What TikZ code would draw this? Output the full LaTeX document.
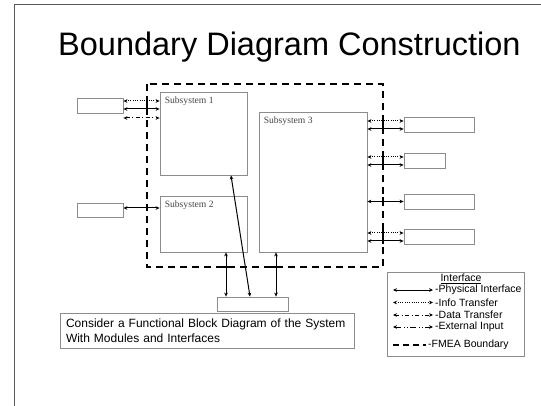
\documentclass[tikz,border=0pt]{standalone}
\usepackage{fontspec}
\setmainfont{Liberation Serif}
\newfontfamily\arialfont{Liberation Sans}
\usetikzlibrary{arrows.meta}
\definecolor{boxgray}{RGB}{140,140,140}
\definecolor{labgray}{RGB}{70,70,70}
\definecolor{framegray}{RGB}{90,90,90}
\tikzset{
  sysbox/.style={draw=boxgray, line width=0.8pt, inner sep=0pt, rectangle},
  sublabel/.style={anchor=base west, inner sep=0pt, font=\fontsize{9.6}{11}\selectfont, text=labgray},
  conn/.style={line width=1pt, >={Stealth[length=4pt,width=3.6pt]}, <->},
  phys/.style={conn},
  info/.style={conn, dash pattern=on 1pt off 1.3pt},
  data/.style={conn, dash pattern=on 4pt off 2.5pt on 1pt off 2.5pt},
  ext/.style={conn, dash pattern=on 6pt off 2.5pt on 1pt off 2pt on 1pt off 2.5pt},
  fmea/.style={line width=2pt, dash pattern=on 7pt off 5pt},
  fmeatick/.style={line width=2pt},
  legtext/.style={anchor=west, inner sep=0pt, font=\arialfont\fontsize{10.5}{12}\selectfont},
}
\begin{document}
\begin{tikzpicture}[x=1pt,y=-1pt]
\useasboundingbox (0,0) rectangle (541,406);
\fill[white] (0,0) rectangle (541,406);
\draw[framegray, line width=0.8pt] (14,406) -- (14,4) -- (541,4);

\node[anchor=base west, inner sep=0pt, font=\arialfont\fontsize{32.5}{38}\selectfont] (title) at (58,56) {Boundary Diagram Construction};

% FMEA boundary
\draw[fmea] (147,84) rectangle (383,267);

% boxes
\node[sysbox, minimum width=46pt, minimum height=15pt] (A) at (100,105.5) {};
\node[sysbox, minimum width=46pt, minimum height=14pt] (B) at (100,210) {};
\node[sysbox, minimum width=87pt, minimum height=83pt] (s1) at (203.5,133.5) {};
\node[sysbox, minimum width=87pt, minimum height=56pt] (s2) at (203.5,224) {};
\node[sysbox, minimum width=108pt, minimum height=140pt] (s3) at (313,182) {};
\node[sysbox, minimum width=70pt, minimum height=15pt] (R1) at (439,124.5) {};
\node[sysbox, minimum width=41pt, minimum height=15pt] (R2) at (424.5,160.5) {};
\node[sysbox, minimum width=70pt, minimum height=15pt] (R3) at (439,201.5) {};
\node[sysbox, minimum width=70pt, minimum height=15pt] (R4) at (439,236.5) {};
\node[sysbox, minimum width=71pt, minimum height=14pt] (bot) at (252.5,304) {};

\node[sublabel] (s1lab) at ([shift={(5,12)}]s1.north west) {Subsystem 1};
\node[sublabel] (s2lab) at ([shift={(5,12)}]s2.north west) {Subsystem 2};
\node[sublabel] (s3lab) at ([shift={(5,12)}]s3.north west) {Subsystem 3};

% left connectors
\draw[info] (A.east |- 0,101) -- (s1.west |- 0,101);
\draw[phys] (A.east |- 0,109) -- (s1.west |- 0,109);
\draw[data] (A.east |- 0,118) -- (s1.west |- 0,118);
\draw[phys] (B.east |- 0,208) -- (s2.west |- 0,208);

% right connectors
\draw[info] (s3.east |- 0,121) -- (R1.west |- 0,121);
\draw[phys] (s3.east |- 0,129) -- (R1.west |- 0,129);
\draw[info] (s3.east |- 0,157) -- (R2.west |- 0,157);
\draw[phys] (s3.east |- 0,165) -- (R2.west |- 0,165);
\draw[phys] (s3.east |- 0,201.5) -- (R3.west);
\draw[info] (s3.east |- 0,233) -- (R4.west |- 0,233);
\draw[phys] (s3.east |- 0,241) -- (R4.west |- 0,241);

% vertical connectors
\draw[phys] (226,0 |- s2.south) -- (226,0 |- bot.north);
\draw[phys] (276,0 |- s3.south) -- (276,0 |- bot.north);
\draw[phys] ([xshift=27.5pt]s1.south) -- ([xshift=-2.5pt]bot.north);

% boundary ticks at crossings
\draw[fmeatick] (147,98) -- (147,112);
\draw[fmeatick] (383,118) -- (383,132);
\draw[fmeatick] (383,154) -- (383,168);
\draw[fmeatick] (383,197) -- (383,206);
\draw[fmeatick] (383,230) -- (383,244);
\draw[fmeatick] (221,267) -- (231,267);
\draw[fmeatick] (271,267) -- (281,267);

% note
\node[draw=boxgray, line width=0.8pt, minimum width=294pt, minimum height=35pt, text width=282pt, align=left, inner xsep=6pt, inner ysep=0pt, font=\arialfont\fontsize{12}{15}\selectfont] (note) at (207,330.5) {Consider a Functional Block Diagram of the System\\With Modules and Interfaces};

% legend
\node[draw=boxgray, line width=0.8pt, minimum width=137pt, minimum height=84pt, inner sep=0pt] (legend) at (455.5,314) {};
\node[inner sep=0pt, font=\arialfont\fontsize{10.5}{12}\selectfont] (legtitle) at (461,279) {\underline{Interface}};
\coordinate (l1a) at (393,290); \coordinate (l1b) at (433,290);
\draw[phys] (l1a) -- (l1b);
\node[legtext] (l1t) at (435,290) {-Physical Interface};
\coordinate (l2a) at (393,302.5); \coordinate (l2b) at (433,302.5);
\draw[info] (l2a) -- (l2b);
\node[legtext] (l2t) at (435,302.5) {-Info Transfer};
\coordinate (l3a) at (393,315); \coordinate (l3b) at (433,315);
\draw[data] (l3a) -- (l3b);
\node[legtext] (l3t) at (435,315) {-Data Transfer};
\coordinate (l4a) at (393,327); \coordinate (l4b) at (433,327);
\draw[ext] (l4a) -- (l4b);
\node[legtext] (l4t) at (435,327) {-External Input};
\coordinate (l5a) at (393,345); \coordinate (l5b) at (426,345);
\draw[fmea, dash pattern=on 6pt off 4pt] (l5a) -- (l5b);
\node[legtext] (l5t) at (428,345) {-FMEA Boundary};
\end{tikzpicture}
\end{document}
